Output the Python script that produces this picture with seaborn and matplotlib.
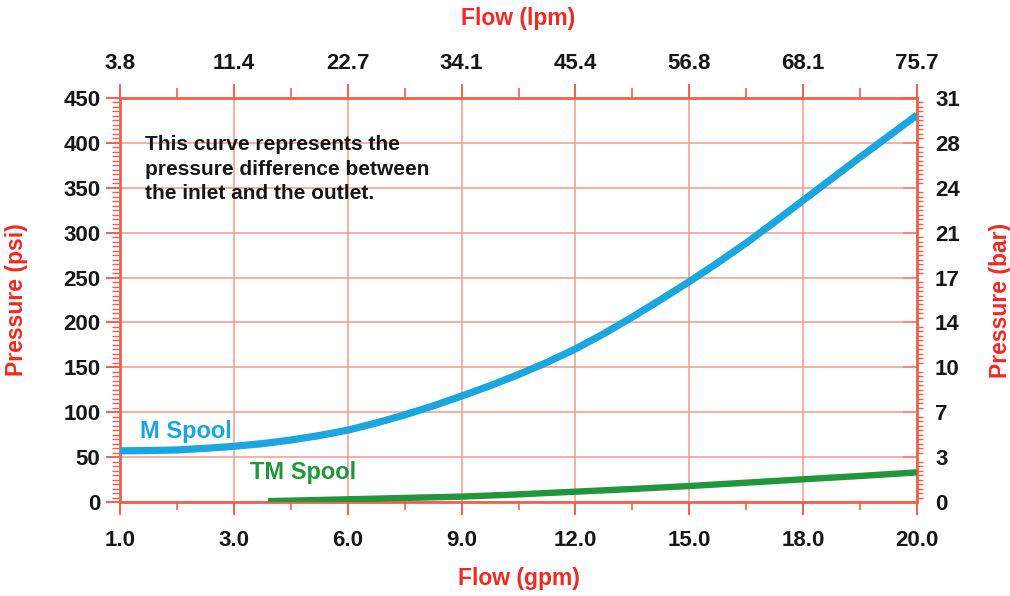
import numpy as np
import pandas as pd
import matplotlib
matplotlib.use("Agg")
import matplotlib.pyplot as plt
import seaborn as sns
from matplotlib.ticker import FixedLocator, MultipleLocator

# ---- data ----
gpm_ticks = [1.0, 3.0, 6.0, 9.0, 12.0, 15.0, 18.0, 20.0]
lpm_labels = ["3.8", "11.4", "22.7", "34.1", "45.4", "56.8", "68.1", "75.7"]
psi_ticks = [0, 50, 100, 150, 200, 250, 300, 350, 400, 450]
bar_labels = ["0", "3", "7", "10", "14", "17", "21", "24", "28", "31"]

m_gpm = [1.0, 1.5, 2.0, 2.5, 3.0, 3.75, 4.5, 5.25, 6.0, 6.75, 7.5, 8.25, 9.0, 9.75,
         10.5, 11.25, 12.0, 12.75, 13.5, 14.25, 15.0, 15.75, 16.5, 17.25, 18.0,
         18.5, 19.0, 19.5, 20.0]
m_psi = [57, 57.3, 58, 59.8, 62, 65, 69, 74, 80, 88, 97, 107, 118, 129.5,
         142, 155.5, 170.5, 187.5, 206, 225.5, 245.5, 266.5, 288.5, 312, 336,
         360, 384, 407.5, 431]

tm_gpm = [3.9, 4.5, 6.0, 7.5, 9.0, 10.5, 12.0, 13.5, 15.0, 16.5, 18.0, 19.0, 20.0]
tm_psi = [1.0, 1.5, 3.0, 4.5, 6.0, 8.5, 11.5, 14.5, 17.8, 21.5, 25.3, 29.0, 33.0]

# ---- style ----
sns.set_theme(style="white")
plt.rcParams['font.family'] = ['Liberation Sans', 'DejaVu Sans']
plt.rcParams['font.weight'] = 'bold'

RED = "#ee2a24"
GRID = "#f39a8c"
SPINE = "#f0604e"
BLUE = "#1aa6df"
GREEN = "#22963c"
TXT = "#161616"

# gpm ticks sit at evenly spaced positions
pos_ticks = np.arange(len(gpm_ticks))
def to_pos(g):
    return np.interp(g, gpm_ticks, pos_ticks)

df_m = pd.DataFrame({"pos": to_pos(m_gpm), "psi": m_psi})
df_tm = pd.DataFrame({"pos": to_pos(tm_gpm), "psi": tm_psi})

fig = plt.figure(figsize=(10.10, 5.96), dpi=100)
ax = fig.add_axes([120/1010, 1-502/596, 797/1010, 404/596])

ax.set_xlim(0, len(gpm_ticks) - 1)
ax.set_ylim(0, 450)

sns.lineplot(data=df_m, x="pos", y="psi", ax=ax, color=BLUE, linewidth=5.2,
             solid_capstyle="butt", solid_joinstyle="round", zorder=5)
sns.lineplot(data=df_tm, x="pos", y="psi", ax=ax, color=GREEN, linewidth=4.6,
             solid_capstyle="butt", solid_joinstyle="round", zorder=5)

# ticks
ax.xaxis.set_major_locator(FixedLocator(pos_ticks))
ax.set_xticklabels([f"{g:.1f}" for g in gpm_ticks])
ax.xaxis.set_minor_locator(FixedLocator(pos_ticks[:-1] + 0.5))
ax.yaxis.set_major_locator(FixedLocator(psi_ticks))
ax.set_yticklabels([str(v) for v in psi_ticks])
ax.yaxis.set_minor_locator(MultipleLocator(5))

ax.grid(True, which="major", color=GRID, linewidth=1.1)
for s in ax.spines.values():
    s.set_visible(True)
    s.set_color(SPINE)
    s.set_linewidth(2.0)

ax.tick_params(axis="x", which="major", bottom=True, direction="out", length=9,
               width=1.4, color=SPINE, pad=11, labelsize=16, labelcolor=TXT)
ax.tick_params(axis="x", which="minor", bottom=True, direction="out", length=6,
               width=1.2, color=SPINE)
ax.tick_params(axis="y", which="major", left=True, direction="out", length=10,
               width=1.4, color=SPINE, pad=4, labelsize=16, labelcolor=TXT)
ax.tick_params(axis="y", which="minor", left=True, direction="out", length=6,
               width=1.0, color=SPINE)

# secondary axes
secx = ax.secondary_xaxis("top")
secx.xaxis.set_major_locator(FixedLocator(pos_ticks))
secx.set_xticklabels(lpm_labels)
secx.xaxis.set_minor_locator(FixedLocator(pos_ticks[:-1] + 0.5))
secx.spines["top"].set_visible(False)
secx.tick_params(axis="x", which="major", direction="out", length=10, width=1.4,
                 color=SPINE, pad=7, labelsize=16, labelcolor=TXT)
secx.tick_params(axis="x", which="minor", direction="out", length=7, width=1.2,
                 color=SPINE)

secy = ax.secondary_yaxis("right")
secy.yaxis.set_major_locator(FixedLocator(psi_ticks))
secy.set_yticklabels(bar_labels)
secy.yaxis.set_minor_locator(MultipleLocator(5))
secy.spines["right"].set_visible(False)
secy.tick_params(axis="y", which="major", direction="in", length=10, width=1.4,
                 color=SPINE, pad=13, labelsize=16, labelcolor=TXT)
secy.tick_params(axis="y", which="minor", direction="out", length=4, width=1.0,
                 color=SPINE)

for lab in ax.get_xticklabels() + ax.get_yticklabels() + secx.get_xticklabels() + secy.get_yticklabels():
    lab.set_fontweight("bold")

# axis labels
lab_kw = dict(color=RED, fontsize=16.5, fontweight="bold")
ax.set_xlabel("Flow (gpm)", **lab_kw)
ax.xaxis.set_label_coords(0.5, (502-578)/404)
ax.xaxis.label.set_va("center")
ax.set_ylabel("Pressure (psi)", **lab_kw)
ax.yaxis.set_label_coords((17-120)/797, 0.5)
ax.yaxis.label.set_ha("center")
ax.yaxis.label.set_va("center")
fig.text(518/1010, 1-18/596, "Flow (lpm)", ha="center", va="center", **lab_kw)
fig.text(1000/1010, 1-300/596, "Pressure (bar)", ha="center", va="center",
         rotation=90, **lab_kw)

# annotations
ax.text(0.22, 409, "This curve represents the\npressure difference between\nthe inlet and the outlet.",
        fontsize=15, fontweight="bold", color=TXT, ha="left", va="top",
        linespacing=1.38, zorder=6)
ax.text(0.18, 79, "M Spool", fontsize=17, fontweight="bold", color=BLUE,
        ha="left", va="center", zorder=6)
ax.text(1.14, 33, "TM Spool", fontsize=17, fontweight="bold", color=GREEN,
        ha="left", va="center", zorder=6)

fig.savefig("out.png", dpi=100, facecolor="white")
